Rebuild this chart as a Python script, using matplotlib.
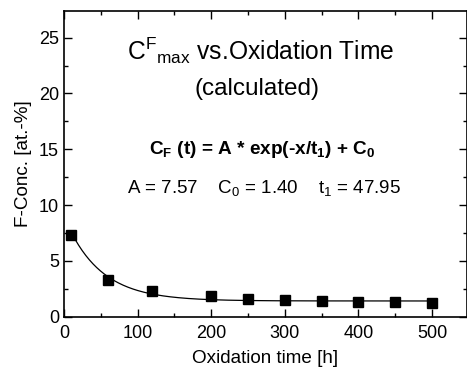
import numpy as np
import matplotlib
matplotlib.use("Agg")
import matplotlib.pyplot as plt
from matplotlib.ticker import MultipleLocator

plt.rcParams['font.family'] = ['Liberation Sans', 'DejaVu Sans']
plt.rcParams['mathtext.fontset'] = 'custom'
plt.rcParams['mathtext.rm'] = 'Liberation Sans'
plt.rcParams['mathtext.it'] = 'Liberation Sans'
plt.rcParams['mathtext.bf'] = 'Liberation Sans:bold'

# measured points
zeit = [10, 60, 120, 200, 250, 300, 350, 400, 450, 500]
konz = [7.35, 3.3, 2.3, 1.82, 1.6, 1.47, 1.4, 1.33, 1.28, 1.2]

# fit parameters printed on the chart
A = 7.57
C0 = 1.40
t1 = 47.95

fig = plt.figure(figsize=(4.67, 3.76), dpi=100)
ax = fig.add_axes([0.137, 0.158, 0.862, 0.813])

xf = np.linspace(zeit[0], zeit[-1], 300)
ax.plot(xf, A * np.exp(-xf / t1) + C0, color='black', lw=0.9)
ax.plot(zeit, konz, 's', color='black', ms=7.2)

ax.set_xlim(0, 547)
ax.set_ylim(0, 27.4)
ax.xaxis.set_major_locator(MultipleLocator(100))
ax.xaxis.set_minor_locator(MultipleLocator(50))
ax.yaxis.set_major_locator(MultipleLocator(5))
ax.yaxis.set_minor_locator(MultipleLocator(2.5))
ax.tick_params(which='both', direction='in', top=True, right=True,
               labelsize=13, width=1.0)
ax.tick_params(axis='x', which='major', pad=6)
ax.tick_params(which='major', length=6)
ax.tick_params(which='minor', length=3)
for s in ax.spines.values():
    s.set_linewidth(1.2)

ax.set_xlabel("Oxidation time [h]", fontsize=13.6, labelpad=6)
ax.set_ylabel("F-Conc. [at.-%]", fontsize=13.6, labelpad=5)

ax.text(0.488, 0.87, r"C$^{\mathrm{F}}$$_{\mathrm{max}}$ vs.Oxidation Time",
        transform=ax.transAxes, ha='center', va='center', fontsize=17.7)
ax.text(0.480, 0.745, "(calculated)", transform=ax.transAxes,
        ha='center', va='center', fontsize=17.5)
ax.text(0.493, 0.545,
        r"C$_{\mathbf{F}}$ (t) = A * exp(-x/t$_{\mathbf{1}}$) + C$_{\mathbf{0}}$",
        transform=ax.transAxes, ha='center', va='center', fontsize=13.7,
        fontweight='bold')
ax.text(0.497, 0.42,
        r"A = 7.57    C$_0$ = 1.40    t$_1$ = 47.95",
        transform=ax.transAxes, ha='center', va='center', fontsize=13.5)

fig.savefig("out.png", dpi=100)
